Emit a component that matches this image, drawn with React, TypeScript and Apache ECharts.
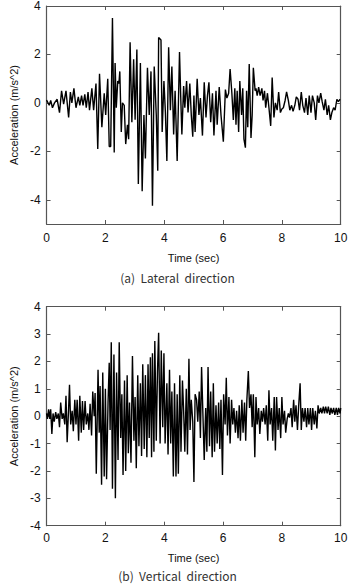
import React, { useEffect, useRef } from "react";
import * as echarts from "echarts";

// Lateral direction acceleration record: [time (s), acceleration (m/s^2)]
const lateral: number[][] = [
  [0.00, 0.12], [0.09, -0.1], [0.14, 0.1], [0.20, -0.2], [0.27, 0.0], [0.36, 0.15], [0.44, -0.4], [0.51, 0.5],
  [0.58, -0.05], [0.66, 0.5], [0.75, -0.6], [0.81, 0.45], [0.86, 0.0], [0.93, 0.6], [1.00, -0.2], [1.08, 0.25],
  [1.13, -0.1], [1.19, 0.3], [1.24, -0.1], [1.30, 0.35], [1.35, -0.2], [1.41, 0.45], [1.46, -0.3], [1.54, 0.6],
  [1.60, -0.3], [1.68, 0.8], [1.74, -1.9], [1.80, 1.2], [1.88, -1.0], [1.96, 0.4], [2.01, -0.5], [2.08, 1.0],
  [2.13, -1.8], [2.18, -1.8], [2.24, 3.5], [2.30, -2.05], [2.33, 1.65], [2.37, -0.2], [2.42, 0.9], [2.46, 0.8],
  [2.49, 1.3], [2.54, -1.2], [2.58, 0.0], [2.64, -0.1], [2.69, -1.7], [2.75, -0.9], [2.79, -1.5], [2.84, 2.5],
  [2.90, -0.8], [2.96, 1.8], [3.01, -0.7], [3.07, 2.2], [3.12, -3.35], [3.19, 1.65], [3.25, -3.65], [3.31, -0.5],
  [3.36, -2.3], [3.43, 1.45], [3.49, -0.5], [3.55, 1.3], [3.60, -4.25], [3.66, 1.5], [3.73, -0.5], [3.78, -2.8],
  [3.81, 2.7], [3.89, 2.6], [3.93, -1.2], [3.99, 0.9], [4.04, -0.4], [4.09, -2.4], [4.15, 2.3], [4.21, -0.3],
  [4.26, 1.5], [4.32, -1.3], [4.37, 0.5], [4.44, -2.4], [4.52, 2.1], [4.56, 0.3], [4.60, -1.3], [4.66, 0.7],
  [4.70, -0.2], [4.76, 0.9], [4.81, -0.4], [4.87, 0.8], [4.92, -0.5], [4.97, -1.4], [5.01, 0.3], [5.05, -1.2],
  [5.12, 1.0], [5.18, -0.5], [5.23, 0.2], [5.30, -1.35], [5.36, 0.85], [5.42, -0.6], [5.47, 0.3], [5.52, 0.85],
  [5.58, -0.8], [5.64, 0.4], [5.69, -1.35], [5.76, 0.5], [5.80, -0.9], [5.87, 0.65], [5.93, -0.5], [6.01, -1.6],
  [6.08, 0.55], [6.13, 0.2], [6.19, 0.4], [6.24, 1.4], [6.30, 0.4], [6.35, -0.7], [6.40, 0.6], [6.44, -0.9],
  [6.48, 0.5], [6.53, -1.2], [6.57, 0.9], [6.63, -0.5], [6.67, 0.6], [6.71, -1.5], [6.76, -1.85], [6.80, 0.5],
  [6.84, -1.0], [6.89, 1.6], [6.95, -1.45], [6.99, -0.5], [7.03, 1.45], [7.09, 0.5], [7.12, 0.6], [7.16, 0.3],
  [7.21, 0.65], [7.26, 0.3], [7.32, 0.6], [7.36, 0.1], [7.41, 0.5], [7.45, -0.2], [7.51, 0.4], [7.56, -0.2],
  [7.62, -0.95], [7.67, 1.05], [7.73, -0.6], [7.78, 0.0], [7.84, -0.3], [7.89, 0.45], [7.95, -0.4], [8.00, -0.25],
  [8.05, -0.2], [8.11, 0.1], [8.16, 0.45], [8.22, 0.1], [8.27, -0.3], [8.33, -0.1], [8.38, -0.35], [8.44, -0.1],
  [8.49, 0.25], [8.55, 0.15], [8.60, -0.3], [8.66, 0.45], [8.71, -0.1], [8.77, -0.4], [8.82, 0.2], [8.88, -0.5],
  [8.93, 0.3], [8.99, -0.4], [9.04, 0.3], [9.10, 0.0], [9.15, -0.7], [9.21, 0.3], [9.26, 0.0], [9.32, 0.4],
  [9.37, 0.05], [9.43, -0.3], [9.48, 0.15], [9.54, -0.5], [9.59, -0.1], [9.65, -0.7], [9.70, -0.4], [9.76, -0.2],
  [9.81, -0.3], [9.87, 0.15], [9.92, 0.05], [9.98, 0.15],
];

// Vertical direction acceleration record: [time (s), acceleration (m/s^2)]
const vertical: number[][] = [
  [0.00, 0.1], [0.03, -0.1], [0.07, 0.25], [0.11, -0.1], [0.14, 0.25], [0.18, -0.65], [0.22, 0.1], [0.26, -0.2],
  [0.31, 0.15], [0.35, -0.1], [0.40, 0.1], [0.44, -0.4], [0.48, 0.5], [0.53, -0.1], [0.57, 0.1], [0.62, -0.3],
  [0.66, 0.75], [0.70, -0.95], [0.75, 0.3], [0.78, 1.15], [0.82, -0.3], [0.87, 0.2], [0.91, -0.55], [0.96, 0.6],
  [1.00, -0.3], [1.04, 0.6], [1.09, -0.9], [1.13, 0.75], [1.18, -0.6], [1.22, 0.55], [1.26, -0.5], [1.31, 0.55],
  [1.35, -0.3], [1.40, 0.1], [1.44, -0.5], [1.48, 0.45], [1.53, -0.7], [1.57, 0.9], [1.62, 0.0], [1.65, 0.85],
  [1.69, -2.1], [1.75, 1.7], [1.79, -0.6], [1.82, 1.1], [1.87, -2.5], [1.91, 1.6], [1.96, -2.2], [2.00, 1.0],
  [2.04, -2.3], [2.09, 0.5], [2.13, 1.95], [2.16, -0.5], [2.20, 2.7], [2.24, -2.65], [2.29, 2.25], [2.34, -3.0],
  [2.38, 1.6], [2.43, -1.6], [2.47, 2.7], [2.52, -0.8], [2.56, 0.8], [2.60, -2.15], [2.65, 1.3], [2.69, -2.0],
  [2.74, 1.5], [2.78, -1.35], [2.82, 0.5], [2.87, -1.7], [2.92, 2.2], [2.97, -0.9], [3.01, 0.7], [3.05, -1.9],
  [3.10, 1.5], [3.14, -1.1], [3.19, 1.2], [3.23, -1.45], [3.27, 1.9], [3.32, -1.2], [3.36, 1.5], [3.41, -1.5],
  [3.45, 1.9], [3.49, -0.8], [3.53, 2.15], [3.57, -1.5], [3.60, 2.3], [3.65, -1.3], [3.68, 2.75], [3.73, -0.9],
  [3.77, 1.6], [3.81, 3.05], [3.86, -1.0], [3.90, 2.4], [3.95, -0.4], [3.99, 2.3], [4.03, -1.0], [4.09, 1.2],
  [4.13, -1.4], [4.18, 1.7], [4.22, -1.0], [4.26, 0.9], [4.31, -2.2], [4.35, 1.2], [4.40, -2.2], [4.44, 0.8],
  [4.48, -2.1], [4.53, 1.5], [4.57, -1.3], [4.62, 1.3], [4.66, 0.2], [4.70, -1.3], [4.75, 1.0], [4.79, -1.4],
  [4.84, 2.1], [4.88, -0.5], [4.92, 0.6], [4.97, -0.2], [5.01, -2.4], [5.05, 0.8], [5.10, 0.6], [5.14, -0.2],
  [5.19, 0.9], [5.23, -0.8], [5.27, 1.8], [5.32, -0.1], [5.36, -1.6], [5.41, 0.3], [5.45, -1.3], [5.49, 1.8],
  [5.54, -1.1], [5.58, 0.9], [5.63, -1.5], [5.67, 1.2], [5.71, -1.3], [5.76, 0.4], [5.80, -1.0], [5.85, 0.5],
  [5.89, -1.2], [5.93, 0.6], [5.98, -2.15], [6.02, 0.8], [6.07, -0.3], [6.11, 1.4], [6.15, -0.7], [6.20, 0.7],
  [6.24, -1.0], [6.29, 0.6], [6.33, -0.3], [6.37, 0.3], [6.42, -0.6], [6.46, 0.2], [6.51, -0.8], [6.55, 0.4],
  [6.59, -0.9], [6.64, 0.6], [6.68, -0.6], [6.73, 0.5], [6.77, -0.9], [6.81, 0.6], [6.86, 1.65], [6.90, 0.3],
  [6.95, 0.8], [6.99, -0.4], [7.03, 0.8], [7.08, -1.5], [7.12, 0.7], [7.16, -0.3], [7.21, 0.3], [7.25, -0.65],
  [7.30, 0.2], [7.34, -0.2], [7.38, 0.3], [7.43, -0.3], [7.47, 0.4], [7.52, -0.9], [7.56, 0.95], [7.60, -0.3],
  [7.65, 0.3], [7.69, -0.9], [7.74, 0.7], [7.78, -1.25], [7.82, 0.7], [7.87, -0.5], [7.91, 0.3], [7.96, -0.8],
  [8.00, 0.7], [8.04, -0.3], [8.09, 0.2], [8.13, -0.6], [8.18, -0.1], [8.22, 0.1], [8.26, -0.05], [8.31, 0.3],
  [8.35, -0.4], [8.40, 0.6], [8.44, -0.2], [8.48, 0.4], [8.53, -0.5], [8.57, 0.35], [8.62, 1.2], [8.66, -0.5],
  [8.70, 0.3], [8.75, -0.2], [8.79, 0.3], [8.84, -0.4], [8.88, 0.3], [8.92, -0.3], [8.97, 0.3], [9.01, -0.5],
  [9.05, 0.3], [9.10, -0.3], [9.14, 0.2], [9.19, -0.45], [9.23, 0.4], [9.27, 0.1], [9.32, 0.3], [9.36, 0.1],
  [9.41, 0.35], [9.45, 0.1], [9.49, 0.35], [9.54, 0.1], [9.58, 0.35], [9.63, 0.05], [9.67, 0.3], [9.71, 0.1],
  [9.76, 0.3], [9.80, 0.05], [9.85, 0.3], [9.89, 0.05], [9.93, 0.3], [9.98, 0.1], [10.00, 0.3],
];

const xTicks = [0, 2, 4, 6, 8, 10];
const yTicksLateral = [-4, -2, 0, 2, 4];
const yTicksVertical = [-4, -3, -2, -1, 0, 1, 2, 3, 4];

const captions = ["(a)  Lateral  direction", "(b)  Vertical  direction"];
const xName = "Time (sec)";
const yName = "Acceleration (m/s^2)";

const AXIS_COLOR = "#555";
const LABEL_FONT = "'Liberation Sans', Arial, sans-serif";

export default function App() {
  const ref = useRef<HTMLDivElement>(null);

  useEffect(() => {
    document.body.style.margin = "0";
    const chart = echarts.init(ref.current!, undefined, { renderer: "svg" });

    const grids = [
      { left: 37.3, right: 14.3, top: 6, height: 218 },
      { left: 37.3, right: 14.3, top: 306.7, height: 219 },
    ];

    const baseLine = { show: true, onZero: false, lineStyle: { color: AXIS_COLOR, width: 1.2 } };
    const tickStyle = { lineStyle: { color: AXIS_COLOR, width: 1 } };

    const xAxes: any[] = [];
    const yAxes: any[] = [];
    const yMins = [-5, -4];
    const yMaxs = [4, 4];
    const yTicks = [yTicksLateral, yTicksVertical];

    grids.forEach((_, i) => {
      xAxes.push({
        type: "value",
        gridIndex: i,
        min: 0,
        max: 10,
        interval: 2,
        position: "bottom",
        axisLine: baseLine,
        axisTick: { show: true, inside: true, length: 4, customValues: xTicks, ...tickStyle },
        axisLabel: {
          color: "#111",
          fontSize: 12,
          fontFamily: LABEL_FONT,
          margin: i === 0 ? 8 : 6,
          customValues: xTicks,
        },
        splitLine: { show: false },
        name: xName,
        nameLocation: "middle",
        nameGap: i === 0 ? 28 : 27,
        nameTextStyle: { color: "#111", fontSize: 11, fontFamily: LABEL_FONT },
      });
      xAxes.push({
        type: "value",
        gridIndex: i,
        min: 0,
        max: 10,
        interval: 2,
        position: "top",
        axisLine: baseLine,
        axisTick: { show: true, inside: true, length: 4, customValues: xTicks, ...tickStyle },
        axisLabel: { show: false },
        splitLine: { show: false },
      });
      yAxes.push({
        type: "value",
        gridIndex: i,
        min: yMins[i],
        max: yMaxs[i],
        position: "left",
        axisLine: baseLine,
        axisTick: { show: true, inside: true, length: 4, customValues: yTicks[i], ...tickStyle },
        axisLabel: {
          color: "#111",
          fontSize: 12,
          fontFamily: LABEL_FONT,
          margin: 6,
          customValues: yTicks[i],
        },
        splitLine: { show: false },
        name: yName,
        nameLocation: "middle",
        nameGap: 24,
        nameTextStyle: { color: "#111", fontSize: 11, fontFamily: LABEL_FONT },
      });
      yAxes.push({
        type: "value",
        gridIndex: i,
        min: yMins[i],
        max: yMaxs[i],
        position: "right",
        axisLine: baseLine,
        axisTick: { show: true, inside: true, length: 4, customValues: yTicks[i], ...tickStyle },
        axisLabel: { show: false },
        splitLine: { show: false },
      });
    });

    chart.setOption({
      animation: false,
      backgroundColor: "#fff",
      grid: grids,
      xAxis: xAxes,
      yAxis: yAxes,
      series: [
        {
          type: "line",
          xAxisIndex: 0,
          yAxisIndex: 0,
          data: lateral,
          showSymbol: false,
          symbol: "none",
          lineStyle: { color: "#000", width: 1.4 },
          silent: true,
        },
        {
          type: "line",
          xAxisIndex: 2,
          yAxisIndex: 2,
          data: vertical,
          showSymbol: false,
          symbol: "none",
          lineStyle: { color: "#000", width: 1.4 },
          silent: true,
        },
      ],
      graphic: [
        {
          type: "text",
          left: "center",
          top: 271,
          style: {
            text: captions[0],
            fill: "#333",
            fontSize: 12,
            fontFamily: "'Noto Sans CJK KR', 'Noto Sans', sans-serif",
          },
        },
        {
          type: "text",
          left: "center",
          top: 569,
          style: {
            text: captions[1],
            fill: "#333",
            fontSize: 12,
            fontFamily: "'Noto Sans CJK KR', 'Noto Sans', sans-serif",
          },
        },
      ],
    });

    return () => chart.dispose();
  }, []);

  return <div ref={ref} style={{ width: 355, height: 586 }} />;
}
